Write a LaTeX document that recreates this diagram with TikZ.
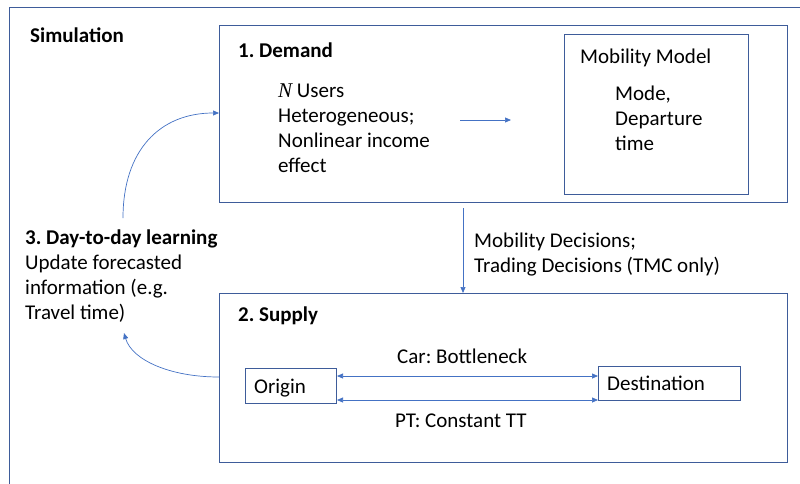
\documentclass[tikz,border=0pt]{standalone}
\usepackage{fontspec}
\setmainfont{Carlito}
\newfontfamily\nfont{Liberation Serif}
\usetikzlibrary{arrows.meta}
\definecolor{boxc}{RGB}{62,92,154}
\definecolor{arrc}{RGB}{68,114,196}
\frenchspacing
\begin{document}
\frenchspacing
\begin{tikzpicture}[x=1pt,y=-1pt,
  box/.style={draw=boxc, line width=1pt, inner sep=0pt, anchor=north west},
  txt/.style={anchor=base west, inner sep=0pt, font=\fontsize{21}{25}\selectfont},
  arr/.style={draw=arrc, line width=0.7pt, -{Triangle[length=6pt,width=5pt]}},
  darr/.style={draw=arrc, line width=0.7pt, {Triangle[length=6pt,width=5pt]}-{Triangle[length=6pt,width=5pt]}}]
\useasboundingbox (0,0) rectangle (800,483);
% outer frame
\draw[boxc, line width=1pt] (9,490) -- (9,7) -- (805,7);
\node[txt, font=\fontsize{21}{25}\selectfont\bfseries] (sim) at (30,42) {Simulation};

% demand
\node[box, minimum width=568, minimum height=177] (demand) at (219,25) {};
\node[txt, font=\fontsize{21}{25}\selectfont\bfseries] (dtitle) at (238,57) {1. Demand};
\node[txt] (d1) at (278,97) {{\nfont\itshape N} Users};
\node[txt] (d2) at (278,122) {Heterogeneous;};
\node[txt] (d3) at (278,147) {Nonlinear income};
\node[txt] (d4) at (278,172) {effect};
\node[box, minimum width=184, minimum height=160] (mob) at (564,34) {};
\node[txt] (m0) at (580,63) {Mobility Model};
\node[txt] (m1) at (615,100) {Mode,};
\node[txt] (m2) at (615,125) {Departure};
\node[txt] (m3) at (615,150) {time};
\coordinate (ia) at (460,120);
\coordinate (ib) at (511,120);
\draw[arr] (ia) -- (ib);

% decisions
\node[txt] (dec1) at (474,247) {Mobility Decisions;};
\node[txt] (dec2) at (474,272) {Trading Decisions (TMC only)};

% supply
\node[box, minimum width=568, minimum height=169] (supply) at (219,293) {};
\node[txt, font=\fontsize{21}{25}\selectfont\bfseries] (stitle) at (238,321) {2. Supply};
\node[box, minimum width=91, minimum height=35] (origin) at (245,368) {};
\node[txt] at (254,393) {Origin};
\node[box, minimum width=142, minimum height=34] (dest) at (598,366) {};
\node[txt] at (607,390) {Destination};
\node[txt] (car) at (397,363) {Car: Bottleneck};
\node[txt] (pt) at (395,427) {PT: Constant TT};
\draw[darr] (origin.east |- 0,376) -- (dest.west |- 0,376);
\draw[darr] (origin.east |- 0,400) -- (dest.west |- 0,400);

% vertical arrow
\coordinate (vx) at (463,0);
\draw[arr] ([yshift=-5pt]demand.south -| vx) -- (supply.north -| vx);

% learning
\node[txt, font=\fontsize{21}{25}\selectfont\bfseries] (l0) at (25,244) {3. Day-to-day learning};
\node[txt] (l1) at (25,269) {Update forecasted};
\node[txt] (l2) at (25,294) {information (e.g.};
\node[txt] (l3) at (25,319) {Travel time)};
\coordinate (ls) at (123,218);
\coordinate (le) at (124,333);
\draw[arr] (ls) .. controls (123,150) and (160,113) .. (demand.west |- 0,113);
\draw[arr] (supply.west |- 0,377) .. controls (170,377) and (132,360) .. (le);
\end{tikzpicture}
\end{document}
